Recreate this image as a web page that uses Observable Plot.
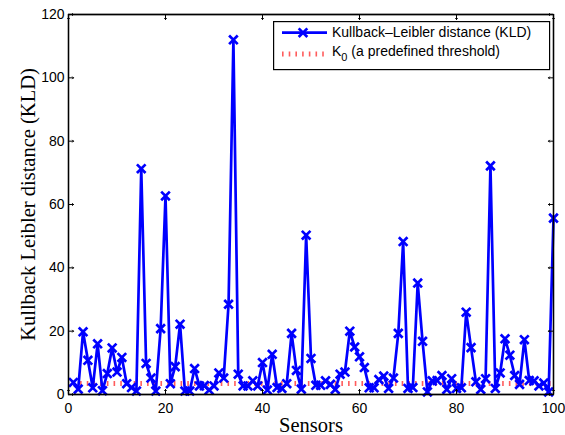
<!DOCTYPE html>
<html>
<head>
<meta charset="utf-8">
<script src="https://cdn.jsdelivr.net/npm/d3@7"></script>
<script src="https://cdn.jsdelivr.net/npm/@observablehq/plot@0.6"></script>
<style>
  html, body { margin: 0; padding: 0; background: white; overflow: hidden; }
  #wrap { position: relative; width: 565px; height: 435px; }
  #wrap > svg { display: block; }
  #legend { position: absolute; left: 273px; top: 21px; overflow: visible; }
</style>
</head>
<body>
<div id="wrap"></div>
<script>
// ---- data ----
const kld = [
  3.8, 1.7, 19.8, 10.8, 2.1, 16.0, 1.2, 6.6, 14.7, 7.1,
  11.7, 3.4, 2.2, 1.1, 71.3, 9.8, 5.2, 1.1, 20.8, 62.7,
  3.4, 8.8, 22.2, 1.1, 1.1, 8.2, 2.7, 2.8, 1.4, 2.7,
  6.8, 5.2, 28.5, 112.0, 6.4, 2.7, 2.7, 4.3, 2.7, 10.1,
  1.4, 12.7, 2.2, 1.9, 3.4, 19.3, 7.6, 1.7, 50.3, 11.4,
  2.9, 2.9, 4.3, 3.2, 1.6, 6.4, 7.1, 20.0, 15.0, 11.9,
  8.5, 2.1, 2.1, 4.7, 5.8, 1.9, 5.2, 19.3, 48.3, 1.9,
  2.2, 35.2, 16.8, 0.8, 4.3, 4.4, 6.0, 1.6, 5.0, 1.9,
  2.1, 26.0, 14.8, 4.0, 1.6, 5.0, 72.2, 1.9, 6.8, 17.6,
  12.4, 6.0, 3.2, 17.3, 4.4, 4.3, 2.7, 3.6, 0.8, 55.7
];
const sensors = kld.map((_, i) => i + 1);
const K0 = 3.5;
const xDomain = [0, 100];
const yDomain = [0, 120];
const xTicks = [0, 20, 40, 60, 80, 100];
const yTicks = [0, 20, 40, 60, 80, 100, 120];
const xLabel = "Sensors";
const yLabel = "Kullback Leibler distance (KLD)";
const legendLabels = ["Kullback\u2013Leibler distance (KLD)", "K", "0", " (a predefined threshold)"];

const data = sensors.map((s, i) => ({sensor: s, kld: kld[i], k0: K0}));

const blue = "#0000ff";
const red = "#ff4040";
const serif = "'Liberation Serif', 'Times New Roman', serif";

const tickOpts = {length: 5, anchor: "start", stroke: "black", strokeWidth: 1};

const chart = Plot.plot({
  width: 565,
  height: 435,
  marginLeft: 68,
  marginRight: 12,
  marginTop: 14,
  marginBottom: 41,
  x: {domain: xDomain},
  y: {domain: yDomain},
  style: {fontFamily: "'Liberation Sans', Arial, sans-serif", fontSize: "14px", background: "white", color: "black"},
  marks: [
    Plot.lineY(data, {x: "sensor", y: "k0", stroke: red, strokeWidth: 5, strokeDasharray: "1.6,5.1", strokeOpacity: 0.85, strokeLinecap: "butt"}),
    Plot.line(data, {x: "sensor", y: "kld", stroke: blue, strokeWidth: 2.7}),
    Plot.dot(data, {x: "sensor", y: "kld", symbol: "times", r: 4, stroke: blue, strokeWidth: 2.7}),
    // inward ticks on all four sides
    Plot.vector(xTicks, {x: d => d, frameAnchor: "bottom", rotate: 0, ...tickOpts}),
    Plot.vector(xTicks, {x: d => d, frameAnchor: "top", rotate: 180, ...tickOpts}),
    Plot.vector(yTicks, {y: d => d, frameAnchor: "left", rotate: 90, ...tickOpts}),
    Plot.vector(yTicks, {y: d => d, frameAnchor: "right", rotate: -90, ...tickOpts}),
    Plot.frame({stroke: "black", strokeWidth: 1.3}),
    Plot.ruleX(xDomain, {stroke: "black", strokeWidth: 1.3}),
    Plot.ruleY(yDomain, {stroke: "black", strokeWidth: 1.3}),
    Plot.axisX({ticks: xTicks, tickSize: 0, tickPadding: 9, label: null, fontSize: 14}),
    Plot.axisY({ticks: yTicks, tickSize: 0, tickPadding: 4, label: null, fontSize: 14}),
    Plot.text([xLabel], {frameAnchor: "bottom", dy: 31, lineAnchor: "middle", textAnchor: "middle", fontFamily: serif, fontSize: 20.5, fill: "black"}),
    Plot.text([yLabel], {frameAnchor: "left", dx: -40, rotate: -90, textAnchor: "middle", lineAnchor: "middle", fontFamily: serif, fontSize: 20.5, fill: "black"})
  ]
});

const wrap = document.getElementById("wrap");
wrap.appendChild(chart);

// ---- legend overlay (coordinates relative to the legend box) ----
const bw = 276, bh = 48;
const lg = d3.select(wrap).append("svg")
  .attr("id", "legend")
  .attr("width", bw + 2).attr("height", bh + 2);
lg.append("rect").attr("x", 0.6).attr("y", 0.6).attr("width", bw).attr("height", bh)
  .attr("fill", "white").attr("stroke", "black").attr("stroke-width", 1.2);
lg.append("line").attr("x1", 9).attr("x2", 54).attr("y1", 11.7).attr("y2", 11.7)
  .attr("stroke", blue).attr("stroke-width", 2.7);
lg.append("path").attr("d", d3.symbol(d3.symbolTimes, Math.PI * 16)())
  .attr("transform", "translate(30,11.7)")
  .attr("fill", "none").attr("stroke", blue).attr("stroke-width", 2.7);
lg.append("line").attr("x1", 9).attr("x2", 53).attr("y1", 33).attr("y2", 33)
  .attr("stroke", red).attr("stroke-width", 5).attr("stroke-dasharray", "1.6,5.1")
  .attr("stroke-opacity", 0.85);
const tf = "'Liberation Sans', Arial, sans-serif";
lg.append("text").attr("x", 59).attr("y", 16).attr("font-family", tf).attr("font-size", 14)
  .text(legendLabels[0]);
const t2 = lg.append("text").attr("x", 59).attr("y", 35).attr("font-family", tf).attr("font-size", 14);
t2.append("tspan").text(legendLabels[1]);
t2.append("tspan").attr("dy", 5).attr("font-size", 11).text(legendLabels[2]);
t2.append("tspan").attr("dy", -5).text(legendLabels[3]);
</script>
</body>
</html>
